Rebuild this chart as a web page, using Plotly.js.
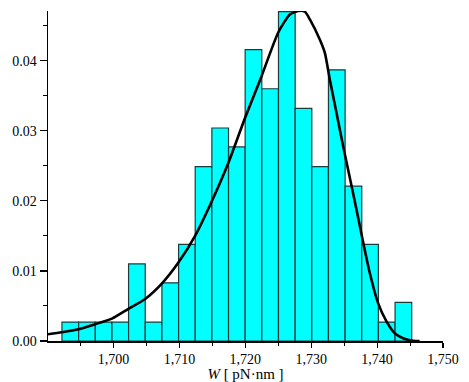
<!DOCTYPE html>
<html>
<head>
<meta charset="utf-8">
<script src="https://cdn.plot.ly/plotly-3.0.1.min.js"></script>
<style>
  html, body { margin: 0; padding: 0; background: #fff; }
  #chart { width: 469px; height: 382px; }
</style>
</head>
<body>
<div id="chart"></div>
<script>
// Histogram of W (bin centres, width)
const binCenters = [1693.44, 1695.97, 1698.50, 1701.03, 1703.55, 1706.08, 1708.61,
                    1711.14, 1713.66, 1716.19, 1718.72, 1721.24, 1723.77, 1726.30,
                    1728.83, 1731.35, 1733.88, 1736.41, 1738.93, 1741.46, 1743.99];
const binWidth = 2.527;
const density = [0.0027, 0.0027, 0.0027, 0.0027, 0.0110, 0.0027, 0.0083,
                 0.0138, 0.0249, 0.0304, 0.0277, 0.0416, 0.0360, 0.0470,
                 0.0332, 0.0249, 0.0387, 0.0221, 0.0138, 0.0027, 0.0055];

// Fitted density curve
const curveW = [1690.06, 1692.18, 1694.70, 1697.23, 1699.76, 1702.27, 1704.80, 1707.33,
                1709.85, 1712.38, 1714.90, 1717.42, 1719.94, 1722.47, 1724.98, 1726.76,
                1728.02, 1729.04, 1729.80, 1731.32, 1732.08, 1732.83, 1733.85, 1734.85,
                1736.36, 1737.38, 1738.89, 1740.15, 1741.42, 1742.68, 1743.94, 1745.45,
                1746.45];
const curveP = [0.00096, 0.00124, 0.00167, 0.0024, 0.0032, 0.0046, 0.0060, 0.0082,
                0.0112, 0.0150, 0.0199, 0.0254, 0.0318, 0.0378, 0.0440, 0.0466,
                0.0471, 0.0470, 0.0459, 0.0430, 0.0411, 0.0373, 0.0325, 0.0278,
                0.0211, 0.0164, 0.0097, 0.0054, 0.0028, 0.0011, 0.0004, 0.00004,
                0.0];

const bars = {
  type: 'bar',
  x: binCenters,
  y: density,
  width: binWidth,
  marker: { color: '#00ffff', line: { color: '#1c3c3c', width: 1.2 } },
  hoverinfo: 'x+y'
};

const fit = {
  type: 'scatter',
  mode: 'lines',
  x: curveW,
  y: curveP,
  line: { color: '#000', width: 2.6, shape: 'spline', smoothing: 0.6 }
};

const serif = 'Liberation Serif, Times New Roman, serif';
const tickFont = { family: serif, size: 14, color: '#000' };
const titleFont = { family: serif, size: 15, color: '#000' };

Plotly.newPlot('chart', [bars, fit], {
  width: 469,
  height: 382,
  margin: { l: 48, r: 26, t: 11, b: 41 },
  paper_bgcolor: '#fff',
  plot_bgcolor: '#fff',
  showlegend: false,
  bargap: 0,
  font: tickFont,
  xaxis: {
    range: [1690.06, 1750],
    tick0: 1700,
    dtick: 10,
    tickformat: ',d',
    tickfont: tickFont,
    ticks: 'outside',
    ticklen: 5,
    tickwidth: 1.2,
    tickcolor: '#000',
    minor: { dtick: 5, tick0: 1700, ticks: 'outside', ticklen: 3, tickcolor: '#000', tickwidth: 1 },
    showline: true,
    linecolor: '#000',
    linewidth: 1.5,
    showgrid: false,
    zeroline: false,
    automargin: false,
    title: { text: '<i>W</i> [ pN·nm ]', font: titleFont, standoff: 3 }
  },
  yaxis: {
    range: [0, 0.0471],
    tick0: 0,
    dtick: 0.01,
    tickformat: '.2f',
    tickfont: tickFont,
    ticks: 'outside',
    ticklen: 7,
    tickwidth: 1.2,
    tickcolor: '#000',
    minor: { dtick: 0.005, tick0: 0, ticks: 'outside', ticklen: 4, tickcolor: '#000', tickwidth: 1 },
    showline: true,
    linecolor: '#000',
    linewidth: 1.5,
    showgrid: false,
    zeroline: false,
    automargin: false
  }
}, { displayModeBar: false, staticPlot: true });
</script>
</body>
</html>
